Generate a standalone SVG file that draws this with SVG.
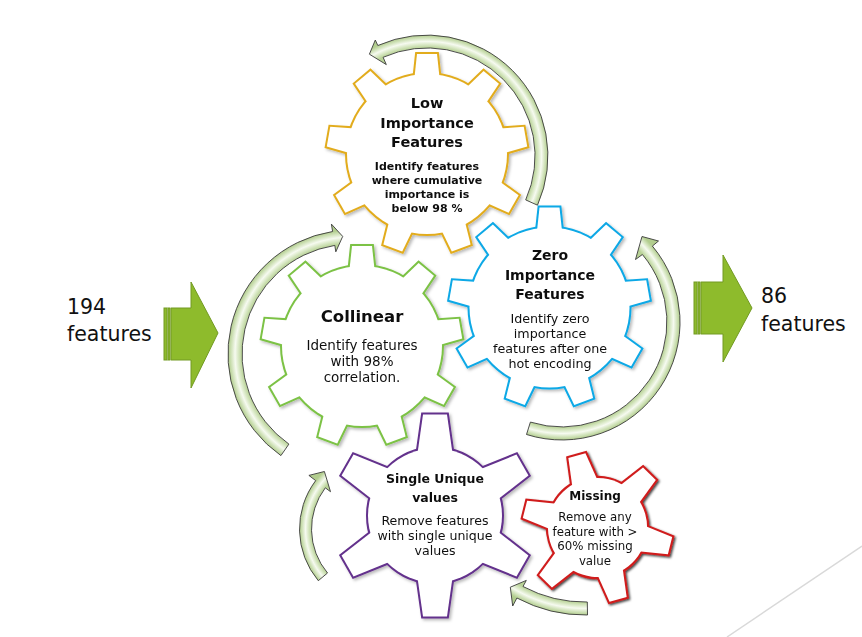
<svg xmlns="http://www.w3.org/2000/svg" xmlns:xlink="http://www.w3.org/1999/xlink" width="862" height="637" viewBox="0 0 862 637">
<style>
text{font-family:"DejaVu Sans","Liberation Sans",sans-serif;fill:#111;text-anchor:middle}
.t{font-weight:bold}
.big{font-size:20.5px;text-anchor:start}
.edge{fill:none;stroke-width:4;stroke-linejoin:miter}
.face{fill:#fff;stroke:none}
.gold{stroke:#E2AC1E}
.green{stroke:#7CC245}
.blue{stroke:#0AA8E6}
.purple{stroke:#63308C}
.red{stroke:#D01C1C;stroke-width:5.6}
.carrow{stroke:#3A3A3A;stroke-width:0.9;stroke-linejoin:round}
.block{fill:#8EBB2C;stroke:#729A22;stroke-width:1}
.s0{stop-color:#B8D296}.s1{stop-color:#DDEBCB}.s2{stop-color:#F6FAF0}.s3{stop-color:#D3E4BD}.s4{stop-color:#B2CD8E}
</style>
<defs>
<filter id="sh" x="-15%" y="-15%" width="135%" height="135%">
<feDropShadow dx="1.8" dy="1.8" stdDeviation="1.4" flood-color="#000" flood-opacity="0.28"/>
</filter>
<filter id="shr" x="-15%" y="-15%" width="135%" height="135%">
<feDropShadow dx="1.4" dy="1.4" stdDeviation="0.9" flood-color="#000" flood-opacity="0.75"/>
</filter>
<g id="g9">
<circle r="80"/>
<path id="t9" d="M-13,-72 L-10,-100 L10,-100 L13,-72 Z"/>
<use href="#t9" transform="rotate(40)"/>
<use href="#t9" transform="rotate(80)"/>
<use href="#t9" transform="rotate(120)"/>
<use href="#t9" transform="rotate(160)"/>
<use href="#t9" transform="rotate(200)"/>
<use href="#t9" transform="rotate(240)"/>
<use href="#t9" transform="rotate(280)"/>
<use href="#t9" transform="rotate(320)"/>
</g>
<g id="g6">
<circle r="67"/>
<path id="t6" d="M-18.5,-55 L-12,-101 L12,-101 L18.5,-55 Z"/>
<use href="#t6" transform="rotate(60)"/>
<use href="#t6" transform="rotate(120)"/>
<use href="#t6" transform="rotate(180)"/>
<use href="#t6" transform="rotate(240)"/>
<use href="#t6" transform="rotate(300)"/>
</g>
<radialGradient id="gA" gradientUnits="userSpaceOnUse" cx="427" cy="156" r="127">
<stop offset="0.850" class="s0"/><stop offset="0.881" class="s1"/><stop offset="0.902" class="s2"/><stop offset="0.927" class="s3"/><stop offset="0.953" class="s4"/>
</radialGradient>
<radialGradient id="gB" gradientUnits="userSpaceOnUse" cx="352" cy="354" r="132">
<stop offset="0.833" class="s0"/><stop offset="0.865" class="s1"/><stop offset="0.886" class="s2"/><stop offset="0.913" class="s3"/><stop offset="0.939" class="s4"/>
</radialGradient>
<radialGradient id="gC" gradientUnits="userSpaceOnUse" cx="562" cy="322" r="125">
<stop offset="0.840" class="s0"/><stop offset="0.871" class="s1"/><stop offset="0.892" class="s2"/><stop offset="0.918" class="s3"/><stop offset="0.944" class="s4"/>
</radialGradient>
<radialGradient id="gD" gradientUnits="userSpaceOnUse" cx="380" cy="529" r="89">
<stop offset="0.770" class="s0"/><stop offset="0.810" class="s1"/><stop offset="0.837" class="s2"/><stop offset="0.871" class="s3"/><stop offset="0.904" class="s4"/>
</radialGradient>
<radialGradient id="gE" gradientUnits="userSpaceOnUse" cx="585" cy="470" r="154">
<stop offset="0.857" class="s0"/><stop offset="0.882" class="s1"/><stop offset="0.899" class="s2"/><stop offset="0.920" class="s3"/><stop offset="0.942" class="s4"/>
</radialGradient>
</defs>
<rect width="862" height="637" fill="#fff"/>
<line x1="727" y1="637" x2="862" y2="546" stroke="#D9D9D9" stroke-width="1.5"/>

<g id="connectors">
<path class="carrow" fill="url(#gA)" d="M525.7,199.9 L537.5,205.2 A121,121 0 0 0 377.8,45.5 L375.3,40 L369.4,54.2 L386.3,64.6 L383.1,57.3 A108,108 0 0 1 525.7,199.9 Z"/>
<path class="carrow" fill="url(#gB)" d="M288.9,444.1 L280.9,455.6 A124,124 0 0 1 332.6,231.5 L331.4,224.1 L342.7,236.4 L335.8,251.8 L334.8,245.4 A110,110 0 0 0 288.9,444.1 Z"/>
<path class="carrow" fill="url(#gC)" d="M530.4,422.1 L526.5,434.5 A118,118 0 0 0 652.4,246.1 L658.5,241 L642,236.5 L635.5,259.5 L642.4,254.5 A105,105 0 0 1 530.4,422.1 Z"/>
<path class="carrow" fill="url(#gD)" d="M327.5,573 L318.3,580.7 A80.5,80.5 0 0 1 315.7,480.6 L308.9,475.4 L324.4,471.5 L330.5,491.7 L325.3,487.8 A68.5,68.5 0 0 0 327.5,573 Z"/>
<path class="carrow" fill="url(#gE)" d="M587.3,602 L587.5,615 A145,145 0 0 1 516.9,598 L512.7,606 L510.3,587.2 L526.3,580.4 L523,586.5 A132,132 0 0 0 587.3,602 Z"/>
</g>

<g id="input-arrow">
<rect class="block" x="164" y="308" width="3" height="52"/>
<rect class="block" x="168" y="308" width="2" height="52"/>
<path class="block" d="M171,308 L191,308 L191,282 L218,333 L191,388 L191,360 L171,360 Z"/>
<text class="big" x="67" y="314">194</text>
<text class="big" x="67" y="341">features</text>
</g>

<g id="output-arrow">
<rect class="block" x="694" y="282" width="3" height="52"/>
<rect class="block" x="698" y="282" width="2" height="52"/>
<path class="block" d="M701,282 L723,282 L723,255 L752,308 L723,362 L723,334 L701,334 Z"/>
<text class="big" x="761" y="303">86</text>
<text class="big" x="761" y="331">features</text>
</g>

<g id="node-low-importance" filter="url(#sh)">
<use href="#g9" transform="translate(427,154)" class="edge gold"/>
<use href="#g9" transform="translate(427,154)" class="face"/>
<text class="t" font-size="14.5"><tspan x="427" y="108">Low</tspan><tspan x="427" y="127.5">Importance</tspan><tspan x="427" y="147">Features</tspan></text>
<text class="t" font-size="11"><tspan x="427" y="169.5">Identify features</tspan><tspan x="427" y="183.5">where cumulative</tspan><tspan x="427" y="197.5">importance is</tspan><tspan x="427" y="211.5">below 98 %</tspan></text>
</g>

<g id="node-collinear" filter="url(#sh)">
<use href="#g9" transform="translate(362,346)" class="edge green"/>
<use href="#g9" transform="translate(362,346)" class="face"/>
<text class="t" font-size="16.5" x="362" y="322">Collinear</text>
<text font-size="13.5"><tspan x="362" y="349.5">Identify features</tspan><tspan x="362" y="365.5">with 98%</tspan><tspan x="362" y="381.5">correlation.</tspan></text>
</g>

<g id="node-zero-importance" filter="url(#sh)">
<use href="#g9" transform="translate(549.5,307.5)" class="edge blue"/>
<use href="#g9" transform="translate(549.5,307.5)" class="face"/>
<text class="t" font-size="14"><tspan x="550" y="260">Zero</tspan><tspan x="550" y="280">Importance</tspan><tspan x="550" y="299">Features</tspan></text>
<text font-size="12.7"><tspan x="550" y="322.5">Identify zero</tspan><tspan x="550" y="337.5">importance</tspan><tspan x="550" y="352.5">features after one</tspan><tspan x="550" y="367.5">hot encoding</tspan></text>
</g>

<g id="node-single-unique" filter="url(#sh)">
<use href="#g6" transform="translate(435,515.5)" class="edge purple"/>
<use href="#g6" transform="translate(435,515.5)" class="face"/>
<text class="t" font-size="12.5"><tspan x="435" y="482.5">Single Unique</tspan><tspan x="435" y="501.5">values</tspan></text>
<text font-size="12.6"><tspan x="435" y="525">Remove features</tspan><tspan x="435" y="540">with single unique</tspan><tspan x="435" y="555">values</tspan></text>
</g>

<g id="node-missing" filter="url(#shr)">
<use href="#g6" transform="translate(597.5,527.5) rotate(-16) scale(0.74)" class="edge red"/>
<use href="#g6" transform="translate(597.5,527.5) rotate(-16) scale(0.74)" class="face"/>
<text class="t" font-size="12" x="595" y="500">Missing</text>
<text font-size="11.8"><tspan x="595" y="521">Remove any</tspan><tspan x="595" y="535.5">feature with &gt;</tspan><tspan x="595" y="550">60% missing</tspan><tspan x="595" y="564.5">value</tspan></text>
</g>
</svg>
